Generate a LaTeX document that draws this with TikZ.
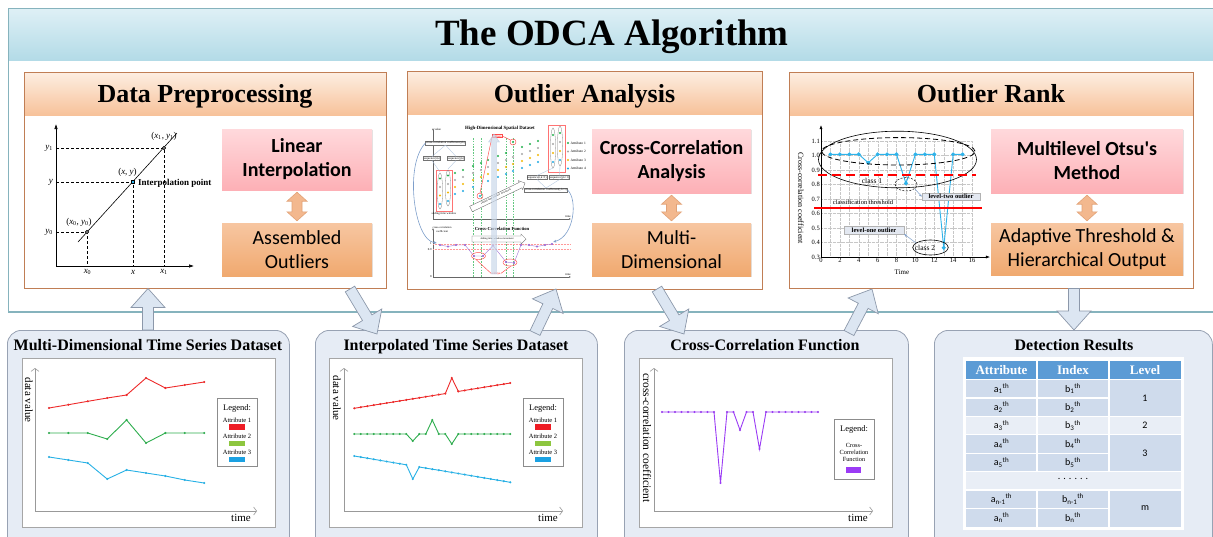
\documentclass[tikz,border=0pt]{standalone}
\usepackage{fontspec}
\setmainfont{Liberation Serif}
\newfontfamily\calfont{Carlito}
\usetikzlibrary{calc,arrows.meta,shadows}

\definecolor{frameline}{HTML}{86B3BD}
\definecolor{bandtop}{HTML}{DFF0F6}
\definecolor{bandbot}{HTML}{B3DBE7}
\definecolor{stagetop}{HTML}{FDEEE2}
\definecolor{stagebot}{HTML}{F7C29A}
\definecolor{stageline}{HTML}{C07E55}
\definecolor{pinktop}{HTML}{FFD9DC}
\definecolor{pinkbot}{HTML}{FDB0B6}
\definecolor{peachtop}{HTML}{F7C6A1}
\definecolor{peachbot}{HTML}{F0A96F}
\definecolor{dblfill}{HTML}{F3B88E}
\definecolor{dblline}{HTML}{E2A277}
\definecolor{panelfill}{HTML}{E6ECF5}
\definecolor{panelline}{HTML}{98A2B3}
\definecolor{arrfill}{HTML}{DCE6F2}
\definecolor{arrline}{HTML}{8C98AA}
\definecolor{tblhead}{HTML}{5B9BD5}
\definecolor{tbldark}{HTML}{CFDBEC}
\definecolor{tbllight}{HTML}{E9EEF6}
\definecolor{ptcyan}{HTML}{2EB3EA}
\definecolor{attr1}{HTML}{EE2A2A}
\definecolor{attr2}{HTML}{2EAE4E}
\definecolor{attr3}{HTML}{27B1E6}
\definecolor{sw1}{HTML}{EE1C24}
\definecolor{sw2}{HTML}{8DC63F}
\definecolor{sw3}{HTML}{1BA1E2}
\definecolor{ccf}{HTML}{9B3BF5}
\definecolor{dotgreen}{HTML}{22B04B}
\definecolor{dotgray}{HTML}{A6A6A6}
\definecolor{dotyellow}{HTML}{F2B705}
\definecolor{dotcyan}{HTML}{1FA9E1}
\definecolor{steel}{HTML}{7E9FCB}
\definecolor{tagfill}{HTML}{E3E8F1}
\definecolor{minipurple}{HTML}{7A3DC8}

% subscripted italic variable
\newcommand\vv[2]{\textit{#1}\textsubscript{#2}}
% block arrow: style, start, end, half shaft, half head, head length
\newcommand\blockarrow[6]{%
  \coordinate (bamid) at ($(#3)!#6!(#2)$);
  \filldraw[#1] ($(#2)!#4!90:(#3)$) -- ($(bamid)!#4!90:(#3)$) -- ($(bamid)!#5!90:(#3)$) -- (#3)
    -- ($(bamid)!#5!-90:(#3)$) -- ($(bamid)!#4!-90:(#3)$) -- ($(#2)!#4!-90:(#3)$) -- cycle;}
% vertical two-headed arrow between a top tip and a bottom tip
\newcommand\dblarrow[2]{%
  \filldraw[dbl] (#1) -- ++(10,9) -- ++(-5,0) -- ($(#2)+(5,-9)$) -- ++(5,0) -- (#2)
    -- ++(-10,-9) -- ++(5,0) -- ($(#1)+(-5,9)$) -- ++(-5,0) -- cycle;}

\begin{document}
\begin{tikzpicture}[x=1pt,y=-1pt,
  stage/.style={rectangle, anchor=north west, fill=white, inner sep=0pt},
  stagetitle/.style={anchor=base, font=\bfseries\fontsize{26}{30}\selectfont},
  pinkbox/.style={rectangle, inner sep=0pt, align=center, top color=pinktop, bottom color=pinkbot,
     font=\calfont\bfseries\fontsize{20}{24}\selectfont,
     drop shadow={shadow xshift=1.2pt, shadow yshift=-1.2pt, opacity=0.22}},
  peachbox/.style={rectangle, inner sep=0pt, align=center, top color=peachtop, bottom color=peachbot,
     font=\calfont\fontsize{20}{24}\selectfont,
     drop shadow={shadow xshift=1.2pt, shadow yshift=-1.2pt, opacity=0.22}},
  dbl/.style={fill=dblfill, draw=dblline, line width=0.6pt, line join=miter},
  blk/.style={fill=arrfill, draw=arrline, line width=0.7pt, line join=miter},
  panel/.style={rectangle, anchor=north west, rounded corners=14pt, fill=panelfill, draw=panelline, line width=0.8pt, inner sep=0pt},
  paneltitle/.style={anchor=base, font=\bfseries\fontsize{16}{19}\selectfont},
  plotbox/.style={rectangle, anchor=north west, draw=black!35, fill=white, line width=0.6pt, inner sep=0pt},
  axis/.style={draw=black!40, line width=0.6pt, -{Straight Barb[length=3pt,width=8pt]}},
  lgbox/.style={rectangle, anchor=north west, draw=black!45, fill=white, line width=0.5pt, inner sep=0pt},
  lgtext/.style={font=\fontsize{6.5}{7}\selectfont, inner sep=0pt},
  axlabel/.style={font=\fontsize{11}{12}\selectfont, inner sep=0pt},
  series/.style={line width=0.9pt, mark=*, mark size=0.55pt, mark options={draw=none, fill=black!45}},
  mathlbl/.style={font=\fontsize{9}{10}\selectfont, inner sep=1pt},
  minibox/.style={draw=black!55, line width=0.3pt, fill=white, inner sep=0.5pt, font=\fontsize{3}{3.5}\selectfont},
  mini/.style={inner sep=0.3pt, font=\fontsize{3}{3.5}\selectfont},
  tag/.style={draw=black!30, fill=tagfill, inner sep=1.6pt, font=\bfseries\fontsize{6.5}{7}\selectfont},
  tick/.style={font=\fontsize{6.5}{7}\selectfont, inner sep=1pt},
  thead/.style={text=white, font=\bfseries\fontsize{13}{15}\selectfont},
  tcell/.style={font=\calfont\fontsize{10}{12}\selectfont}
]
\useasboundingbox (0,0) rectangle (1213,536);

% ---------- frame with title band ----------
\shade[top color=bandtop, bottom color=bandbot] (8,8) rectangle (1230,60);
\draw[frameline, line width=0.8pt] (1230,8) -- (8,8) -- (8,312);
\draw[frameline, line width=1.6pt] (8,312) -- (1230,312);
\node[anchor=base, font=\bfseries\fontsize{37}{44}\selectfont] (title) at (612,45) {The ODCA Algorithm};

% ---------- the three stages ----------
\node[stage, minimum width=362pt, minimum height=216pt] (dp) at (24,72) {};
\node[stage, minimum width=355pt, minimum height=218pt] (oa) at (407,71) {};
\node[stage, minimum width=404pt, minimum height=216pt] (or) at (789,72) {};
\foreach \s in {dp,oa,or}{
  \shade[top color=stagetop, bottom color=stagebot] (\s.north west) rectangle ($(\s.north east)+(0,43)$);
  \draw[stageline, line width=0.9pt] (\s.north west) rectangle (\s.south east);
}
\node[stagetitle] (dpt) at (205,102) {Data Preprocessing};
\node[stagetitle] (oat) at (584.5,102) {Outlier Analysis};
\node[stagetitle] (ort) at (991,102) {Outlier Rank};

\node[pinkbox, minimum width=150pt, minimum height=61pt] (lin) at (297,159.5) {Linear\\Interpolation};
\node[peachbox, minimum width=150pt, minimum height=53pt] (asm) at (297,249.5) {Assembled\\Outliers};
\node[pinkbox, minimum width=159pt, minimum height=64pt] (cca) at (671.5,161) {Cross-Correlation\\Analysis};
\node[peachbox, minimum width=159pt, minimum height=53pt] (mdm) at (671.5,249.5) {Multi-\\Dimensional};
\node[pinkbox, minimum width=192pt, minimum height=64pt] (mlo) at (1087,161) {Multilevel Otsu\textquotesingle s\\Method};
\node[peachbox, minimum width=192pt, minimum height=52pt] (ath) at (1087,249) {Adaptive Threshold \&\\Hierarchical Output};

\coordinate (d1a) at ($(lin.south)+(0,2)$); \coordinate (d1b) at ($(asm.north)+(0,-2)$);
\coordinate (d2a) at ($(cca.south)+(0,2)$); \coordinate (d2b) at ($(mdm.north)+(0,-2)$);
\coordinate (d3a) at ($(mlo.south)+(0,2)$); \coordinate (d3b) at ($(ath.north)+(0,-2)$);
\dblarrow{d1a}{d1b}
\dblarrow{d2a}{d2b}
\dblarrow{d3a}{d3b}

% ---------- linear interpolation sketch ----------
\begin{scope}[line width=0.6pt]
  \draw[-{Latex[length=5pt,width=3.5pt]}] (56,266) -- (56,124);
  \draw[-{Latex[length=5pt,width=3.5pt]}] (56,266) -- (194,266);
  \draw[dash pattern=on 3pt off 2pt] (56,148) -| (164,266);
  \draw[dash pattern=on 3pt off 2pt] (56,182) -| (133,266);
  \draw[dash pattern=on 3pt off 2pt] (56,232) -| (87,266);
  \draw (78,242) -- (177,133);
  \draw[fill=black!45] (87,232) circle (1.8pt);
  \draw[fill=black!45] (164,148) circle (1.8pt);
  \draw[fill=ptcyan] (131.5,180.5) rectangle (134.5,183.5);
\end{scope}
\node[mathlbl, anchor=east] (dp-y1) at (54,148) {\vv{y}{1}};
\node[mathlbl, anchor=east] (dp-y) at (54,182) {\textit{y}};
\node[mathlbl, anchor=east] (dp-y0) at (54,232) {\vv{y}{0}};
\node[mathlbl] (dp-x0) at (87.5,272) {\vv{x}{0}};
\node[mathlbl] (dp-x) at (133,272) {\textit{x}};
\node[mathlbl] (dp-x1) at (164,272) {\vv{x}{1}};
\node[mathlbl] (dp-p1) at (164,136) {(\vv{x}{1}, \vv{y}{1})};
\node[mathlbl] (dp-p) at (127.5,172) {(\textit{x}, \textit{y})};
\node[mathlbl] (dp-p0) at (79,222) {(\vv{x}{0}, \vv{y}{0})};
\node[anchor=west, inner sep=0pt, font=\bfseries\fontsize{9}{10}\selectfont] (dp-ip) at (138,183) {Interpolation point};

% ---------- sliding-window cross-correlation sketch ----------
\begin{scope}
  % upper axes
  \draw[black!60, line width=0.3pt, -{Latex[length=2pt,width=1.6pt]}] (433,219) -- (433,128);
  \draw[black!60, line width=0.3pt, -{Latex[length=2pt,width=1.6pt]}] (433,219) -- (571,219);
  \node[mini, anchor=west] (oa-val) at (434,129) {value};
  \node[mini, anchor=south] (oa-t1) at (568,218) {time};
  \node[mini, font=\bfseries\fontsize{4.8}{5.5}\selectfont] (oa-hd) at (500,128) {High-Dimensional Spatial Dataset};
  % window borders
  \foreach \x in {473,481,506,513}
    \draw[dotgreen!70, line width=0.4pt, dash pattern=on 1.6pt off 1.2pt] (\x,138) -- (\x,277);
  % attribute values over time
  \foreach \x/\t in {455/173,463/170,473/166,488/160,498/156,506/153,522/147,530/144,538/141}{
    \fill[dotgreen] (\x,\t) circle (1.1pt);
    \fill[dotgray] (\x,\t+7) circle (1.1pt);
    \fill[dotyellow] (\x,\t+14) circle (1.1pt);
    \fill[dotcyan] (\x,\t+21) circle (1.1pt);
  }
  \fill[dotgreen] (481,163) circle (1.1pt); \fill[dotgray] (481,170) circle (1.1pt);
  \fill[dotyellow] (481,177) circle (1.1pt); \fill[dotcyan] (480,196) circle (1.1pt);
  \fill[dotgreen] (513,142) circle (1.1pt); \fill[dotgray] (513,157) circle (1.1pt);
  \fill[dotyellow] (513,164) circle (1.1pt); \fill[dotcyan] (513,171) circle (1.1pt);
  % window k
  \draw[red!55, line width=0.45pt] (436,170) rectangle (452,211);
  \draw[black!50, line width=0.3pt] (440,191) ellipse (2.6pt and 18pt);
  \draw[black!50, line width=0.3pt] (448,188) ellipse (2.6pt and 18pt);
  \foreach \c [count=\i] in {dotgreen,dotgray,dotyellow,dotcyan}{
    \fill[\c] (440,{170+\i*8.5}) circle (1.1pt);
    \fill[\c] (448,{167+\i*8.5}) circle (1.1pt);
  }
  \node[minibox] (oa-cc1) at (445.5,143) {cross-correlation coefficient(i,k)};
  \node[minibox] (oa-s1) at (432,158.5) {sequence(i,k)};
  \node[minibox] (oa-s2) at (456,158.5) {sequence(j,k)};
  \draw[steel!60, line width=0.35pt] (oa-s1.north) -- (oa-cc1.south) -- (oa-s2.north);
  \draw[steel!60, line width=0.35pt] (oa-s1.south) -- (440,172) (oa-s2.south) -- (448,169);
  \node[mini] (oa-sw) at (444,214) {sliding time window};
  % window k+1
  \draw[red!55, line width=0.45pt] (548,125) rectangle (565,172);
  \draw[black!50, line width=0.3pt] (553,148) ellipse (2.6pt and 20pt);
  \draw[black!50, line width=0.3pt] (560,146) ellipse (2.6pt and 20pt);
  \foreach \c [count=\i] in {dotgreen,dotgray,dotyellow,dotcyan}{
    \fill[\c] (553,{126+\i*9}) circle (1.1pt);
    \fill[\c] (560,{124+\i*9}) circle (1.1pt);
  }
  \node[minibox] (oa-s3) at (537,177.5) {sequence(i,k+1)};
  \node[minibox] (oa-s4) at (559.5,177.5) {sequence(j,k+1)};
  \node[minibox] (oa-cc2) at (546,190) {cross-correlation coefficient(i,k+1)};
  \draw[steel!60, line width=0.35pt] (553,168) -- (oa-s3.north) (560,166) -- (oa-s4.north);
  \draw[steel!60, line width=0.35pt] (oa-s3.south) -- (oa-cc2.north) -- (oa-s4.south);
  % attribute key
  \foreach \c [count=\i] in {dotgreen,dotgray,dotyellow,dotcyan}{
    \fill[\c] (568,{134.5+\i*8.5}) circle (1.1pt);
    \node[mini, anchor=west, font=\fontsize{3.5}{4}\selectfont] (oa-lg\i) at (570,{134.5+\i*8.5}) {Attribute \i};
  }
  % outliers
  \draw[red!70, line width=0.45pt] (480,196) circle (3pt);
  \draw[red!70, line width=0.45pt] (513,142) circle (3pt);
  \node[minibox, draw=red!70, text=red] (oa-out) at (497,136) {outliers};
  \draw[red!70, line width=0.45pt] (480,193) -- (oa-out.south west);
  \draw[red!70, line width=0.45pt] (510.5,140) -- (oa-out.east);
  % window movement
  \coordinate (oa-m1) at (471,209); \coordinate (oa-m2) at (525,183);
  \blockarrow{fill=white, draw=black!60, line width=0.35pt}{oa-m1}{oa-m2}{3pt}{5pt}{5pt}
  \node[mini, rotate=25.7, font=\fontsize{2.6}{3}\selectfont] (oa-mt1) at (496,196.5) {sliding time window movement};
  % lower axes
  \draw[black!60, line width=0.3pt, -{Latex[length=2pt,width=1.6pt]}] (433,277) -- (433,228);
  \draw[black!60, line width=0.3pt, -{Latex[length=2pt,width=1.6pt]}] (433,277) -- (571,277);
  \node[mini, anchor=south] (oa-t2) at (568,276) {time};
  \node[mini, align=center, font=\fontsize{2.8}{3.2}\selectfont] (oa-ccl) at (442,229.5) {cross-correlation\\coefficient};
  \node[mini, font=\bfseries\fontsize{4.6}{5}\selectfont] (oa-cft) at (502,229) {Cross-Correlation Function};
  \node[mini, anchor=east] (oa-one) at (432,244) {1};
  \node[mini, anchor=east] (oa-nine) at (432,249.5) {0.9};
  \node[mini, anchor=east] (oa-zero) at (432,277) {0};
  \draw[red!40, line width=0.5pt, densely dotted] (433,244) -- (570,244);
  \draw[red!40, line width=0.5pt, densely dotted] (433,249.5) -- (570,249.5);
  \coordinate (oa-m3) at (472,239); \coordinate (oa-m4) at (526,239);
  \blockarrow{fill=white, draw=black!60, line width=0.35pt}{oa-m3}{oa-m4}{3pt}{5pt}{5pt}
  \node[mini, font=\fontsize{2.6}{3}\selectfont] (oa-mt2) at (497,239) {sliding time window movement};
  \draw[minipurple!70, line width=0.4pt] plot[mark=*, mark size=0.8pt, mark options={fill=minipurple, draw=none}]
    coordinates {(440,245) (448,246.5) (456,245) (465,245) (474,256) (483,256) (493,245.5)
                 (506,262) (514,263) (521,245) (529,245) (537,246.5) (545,245) (552,244)};
  \draw[red!70, line width=0.45pt] (478.5,256) ellipse (7pt and 3.5pt);
  \draw[red!70, line width=0.45pt] (510,262.5) ellipse (7pt and 3.5pt);
  \node[mini, text=red] (oa-vl) at (496,273.5) {valleys};
  \draw[red!70, line width=0.45pt] (476,259.5) -- (oa-vl.west) (511,266) -- (oa-vl.east);
  % moving direction of the window and coefficient feeds
  \coordinate (oa-b1) at (494,274); \coordinate (oa-b2) at (494,134);
  \blockarrow{fill=steel!40, draw=steel!70, line width=0.3pt, opacity=0.7}{oa-b1}{oa-b2}{2.5pt}{5.5pt}{8pt}
  \draw[steel, line width=0.6pt, -{Latex[open,length=3pt,width=3pt]}] (oa-cc1.west) .. controls (404,165) and (414,240) .. (437,243);
  \draw[steel, line width=0.6pt, -{Latex[open,length=3pt,width=3pt]}] (oa-cc2.east) .. controls (578,200) and (574,236) .. (553,242);
\end{scope}

% ---------- multilevel threshold chart ----------
\begin{scope}[shift={(821,300.5)}, x=9.44pt, y=145pt]
  \foreach \t in {1,...,16}
    \draw[black!22, line width=0.3pt, densely dotted] (\t,0.3) -- (\t,1.1);
  \foreach \v in {0.4,0.5,0.6,0.7,0.8,0.9,1.0,1.1}
    \draw[black!22, line width=0.3pt, densely dotted] (0,\v) -- (16,\v);
  \draw[line width=0.5pt, -{Latex[length=4pt,width=3pt]}] (0,0.3) -- (0,1.21);
  \draw[line width=0.5pt, -{Latex[length=4pt,width=3pt]}] (0,0.3) -- (17.9,0.3);
  \foreach \t in {0,2,...,16}
    \node[tick, below] (orx\t) at (\t,0.3) {\t};
  \foreach \v [count=\i] in {0.3,0.4,0.5,0.6,0.7,0.8,0.9,1.0,1.1}
    \node[tick, left] (ory\i) at (0,\v) {\v};
  \draw[ptcyan, line width=0.9pt] plot[mark=*, mark size=1.5pt]
    coordinates {(1,1.008) (2,1.008) (3,1.008) (4,1.008) (5,0.95) (6,1.008) (7,1.008) (8,1.008)
                 (9,0.808) (10,1.008) (11,1.008) (12,1.008) (13,0.364) (14,1.008) (15,1.008)};
\end{scope}
\node[rotate=-90, font=\fontsize{8}{9}\selectfont] (or-yl) at (801,198) {Cross-correlation coefficient};
\node[font=\fontsize{7}{8}\selectfont] (or-xl) at (902,272.5) {Time};
\draw[line width=0.6pt] (897.5,159.5) ellipse (79pt and 28.3pt);
\draw[line width=0.8pt, dash pattern=on 5pt off 3pt] (898.3,151.3) ellipse (76.7pt and 13.7pt);
\draw[red, line width=2pt, dash pattern=on 9pt off 5pt] (818,175) -- (976,175);
\draw[red, line width=1.1pt] (814,208) -- (982,208);
\node[font=\fontsize{6.5}{7}\selectfont] (or-ct) at (863,202.5) {classification threshold};
\node[font=\fontsize{7.5}{8}\selectfont] (or-c1) at (872,181) {class 1};
\draw[line width=0.5pt, dash pattern=on 2pt off 1.5pt] (906,184.3) ellipse (11pt and 6.7pt);
\node[tag, minimum width=58pt] (or-l2) at (951,196.7) {level-two outlier};
\draw[steel, line width=0.5pt, -{Stealth[length=3pt,width=2.5pt]}] (915,189) -- (or-l2.west);
\node[tag, minimum width=60pt] (or-l1) at (874,230) {level-one outlier};
\draw[line width=0.6pt] (930.5,247.5) ellipse (17.8pt and 7.5pt);
\node[font=\fontsize{7.5}{8}\selectfont] (or-c2) at (925,247.5) {class 2};
\draw[steel, line width=0.5pt, -{Stealth[length=3pt,width=2.5pt]}] (916,243) -- (or-l1.south east);

% ---------- lower row: data panels ----------
\node[panel, minimum width=282pt, minimum height=225pt] (p1) at (7,330) {};
\node[panel, minimum width=282pt, minimum height=225pt] (p2) at (315,330) {};
\node[panel, minimum width=284pt, minimum height=225pt] (p3) at (624,330) {};
\node[panel, minimum width=278pt, minimum height=225pt] (p4) at (934,330) {};
\node[paneltitle] (p1t) at (148,350) {Multi-Dimensional Time Series Dataset};
\node[paneltitle] (p2t) at (456,350) {Interpolated Time Series Dataset};
\node[paneltitle] (p3t) at (765,350) {Cross-Correlation Function};
\node[paneltitle] (p4t) at (1074,350) {Detection Results};

% raw series
\node[plotbox, minimum width=253pt, minimum height=169pt] (pb1) at (22,358) {};
\draw[axis] (35,511) -- (35,368);
\draw[axis] (35,511) -- (257,511);
\node[axlabel, rotate=-90] (p1y) at (29,400) {data value};
\node[axlabel] (p1x) at (241,518) {time};
\draw[series, attr1] plot coordinates {(49,408) (68.4,404.7) (87.8,401.3) (107.2,398) (126.6,395) (146,378) (165.4,388) (184.8,385) (204.2,382)};
\draw[series, attr2] plot coordinates {(49,433) (68.4,433) (87.8,433) (107.2,439) (126.6,420) (146,443) (165.4,433) (184.8,433) (204.2,433)};
\draw[series, attr3] plot coordinates {(49,457) (68.4,460) (87.8,463) (107.2,479) (126.6,470) (146,473) (165.4,476) (184.8,480) (204.2,483)};
\node[lgbox, minimum width=40pt, minimum height=68pt] (lg1) at (217,398) {};
\node[lgtext, font=\fontsize{8.5}{9}\selectfont] (lg1h) at (237,408) {Legend:};
\node[lgtext] (lg1a) at (237,420) {Attribute 1};
\node[lgtext] (lg1b) at (237,436) {Attribute 2};
\node[lgtext] (lg1c) at (237,452) {Attribute 3};
\fill[sw1] (229,424.3) rectangle (245,430);
\fill[sw2] (229,440.7) rectangle (245,446);
\fill[sw3] (229,456.7) rectangle (245,462);

% interpolated series
\node[plotbox, minimum width=253pt, minimum height=169pt] (pb2) at (329,358) {};
\draw[axis] (344,511) -- (344,368);
\draw[axis] (344,511) -- (563,511);
\node[axlabel, rotate=-90] (p2y) at (337,398) {data value};
\node[axlabel] (p2x) at (548,518) {time};
\draw[series, attr1] plot coordinates {(354.3,408.3) (360.8,407.2) (367.3,406.2) (373.8,405.1) (380.3,404.1) (386.8,403.0) (393.3,402.0) (399.8,400.9) (406.3,399.9) (412.8,398.8) (419.3,397.8) (425.8,396.7) (432.3,395.7) (438.8,394.6) (445.3,393.6) (451.8,378) (458.3,391.4) (464.8,390.4) (471.3,389.3) (477.8,388.3) (484.3,387.2) (490.8,386.2) (497.3,385.1) (503.8,384.1) (510.3,383.0)};
\draw[series, attr2] plot coordinates {(354.3,434) (360.8,434) (367.3,434) (373.8,434) (380.3,434) (386.8,434) (393.3,434) (399.8,434) (406.3,434) (412.8,441) (419.3,434) (425.8,434) (432.3,420) (438.8,434) (445.3,434) (451.8,444) (458.3,434) (464.8,434) (471.3,434) (477.8,434) (484.3,434) (490.8,434) (497.3,434) (503.8,434) (510.3,434)};
\draw[series, attr3] plot coordinates {(354.3,456) (360.8,457.1) (367.3,458.2) (373.8,459.3) (380.3,460.4) (386.8,461.5) (393.3,462.6) (399.8,463.7) (406.3,464.8) (412.8,479) (419.3,467.0) (425.8,468.1) (432.3,469.2) (438.8,470.2) (445.3,471.3) (451.8,472.4) (458.3,473.5) (464.8,474.6) (471.3,475.7) (477.8,476.8) (484.3,477.9) (490.8,479.0) (497.3,480.1) (503.8,481.2) (510.3,482.3)};
\node[lgbox, minimum width=40pt, minimum height=68pt] (lg2) at (523,398) {};
\node[lgtext, font=\fontsize{8.5}{9}\selectfont] (lg2h) at (543,408) {Legend:};
\node[lgtext] (lg2a) at (543,420) {Attribute 1};
\node[lgtext] (lg2b) at (543,436) {Attribute 2};
\node[lgtext] (lg2c) at (543,452) {Attribute 3};
\fill[sw1] (535,424.3) rectangle (551,430);
\fill[sw2] (535,440.7) rectangle (551,446);
\fill[sw3] (535,456.7) rectangle (551,462);

% cross-correlation series
\node[plotbox, minimum width=253pt, minimum height=169pt] (pb3) at (639,358) {};
\draw[axis] (654,511) -- (654,368);
\draw[axis] (654,511) -- (873,511);
\node[axlabel, rotate=-90, font=\fontsize{11.5}{12}\selectfont] (p3y) at (647,438) {cross-correlation coefficient};
\node[axlabel] (p3x) at (858,518) {time};
\draw[series, ccf] plot coordinates {(662,412) (668.5,412) (675,412) (681.5,412) (688,412) (694.5,412) (701,412) (707.5,412) (714,412) (720.5,483) (727,412) (733.5,412) (740,430) (746.5,412) (753,412) (759.5,449) (766,412) (772.5,412) (779,412) (785.5,412) (792,412) (798.5,412) (805,412) (811.5,412) (818,412)};
\node[lgbox, minimum width=40pt, minimum height=60pt] (lg3) at (834,419) {};
\node[lgtext, font=\fontsize{8.5}{9}\selectfont] (lg3h) at (854,429) {Legend:};
\node[lgtext, align=center, font=\fontsize{6.3}{7.4}\selectfont] (lg3a) at (854,452.5) {Cross-\\Correlation\\Function};
\fill[ccf] (846,467) rectangle (861,472.5);

% detection results table
\fill[white] (963,357) rectangle (1184,530);
\fill[tblhead] (966,361) rectangle (1181,379.5);
\foreach \i/\c in {1/tbldark,2/tbldark,3/tbllight,4/tbldark,5/tbldark,6/tbllight,7/tbldark,8/tbldark}
  \fill[\c] (966,{379.5+(\i-1)*18.4}) rectangle (1181,{379.5+\i*18.4});
\foreach \i in {0,...,7}
  \draw[white, line width=1.2pt] (966,{379.5+\i*18.4}) -- (1109,{379.5+\i*18.4});
\foreach \i in {0,2,3,5,6}
  \draw[white, line width=1.2pt] (1109,{379.5+\i*18.4}) -- (1181,{379.5+\i*18.4});
\foreach \x in {1037,1109}{
  \draw[white, line width=1.2pt] (\x,361) -- (\x,471.5);
  \draw[white, line width=1.2pt] (\x,489.9) -- (\x,526.7);
}
\node[thead] (th1) at (1001.5,370) {Attribute};
\node[thead] (th2) at (1073,370) {Index};
\node[thead] (th3) at (1145,370) {Level};
\foreach \s/\r in {1/1,2/2,3/3,4/4,5/5,{n-1}/7,n/8}{
  \node[tcell] (ta\r) at (1001.5,{379.5+(\r-0.5)*18.4}) {a\textsubscript{\s}\textsuperscript{th}};
  \node[tcell] (tb\r) at (1073,{379.5+(\r-0.5)*18.4}) {b\textsubscript{\s}\textsuperscript{th}};
}
\node[tcell] (tl1) at (1145,397.9) {1};
\node[tcell] (tl2) at (1145,425.5) {2};
\node[tcell] (tl3) at (1145,453.1) {3};
\node[tcell] (tlm) at (1145,508.3) {m};
\node[tcell] (tdots) at (1073,479) {. . . . . .};

% ---------- flow between stages and data ----------
\coordinate (a1s) at (148,330);   \coordinate (a1e) at (148,288.5);
\coordinate (a2s) at (350,289);   \coordinate (a2e) at (377,334);
\coordinate (a3s) at (535,333);   \coordinate (a3e) at (556,289);
\coordinate (a4s) at (657,289);   \coordinate (a4e) at (684,334);
\coordinate (a5s) at (849,333);   \coordinate (a5e) at (872,289);
\coordinate (a6s) at (1074,288.5); \coordinate (a6e) at (1074,330);
\blockarrow{blk}{a1s}{a1e}{5.5pt}{17pt}{19pt}
\blockarrow{blk}{a2s}{a2e}{5.5pt}{17pt}{19pt}
\blockarrow{blk}{a3s}{a3e}{5.5pt}{17pt}{19pt}
\blockarrow{blk}{a4s}{a4e}{5.5pt}{17pt}{19pt}
\blockarrow{blk}{a5s}{a5e}{5.5pt}{17pt}{19pt}
\blockarrow{blk}{a6s}{a6e}{5.5pt}{17pt}{19pt}
\end{tikzpicture}
\end{document}
